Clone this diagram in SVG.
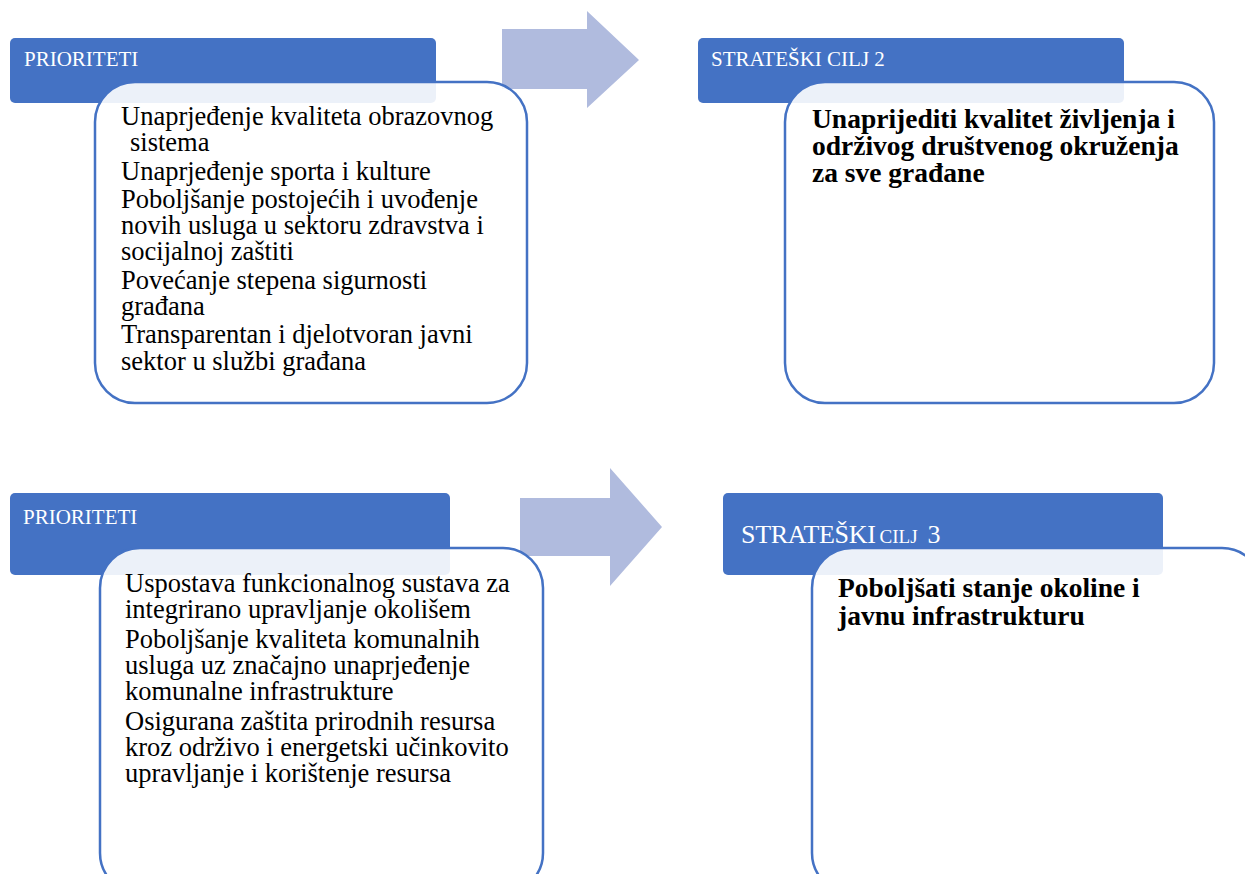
<svg xmlns="http://www.w3.org/2000/svg" width="1245" height="874" viewBox="0 0 1245 874">
<style>
.hdr{fill:#4472C4}
.body{fill:#FFFFFF;fill-opacity:0.9;stroke:#4472C4;stroke-width:2.5}
.arrow{fill:#B0BBDE}
.ht{font-family:"Liberation Serif",serif;font-size:21px;fill:#FFFFFF}
.bt{font-family:"Liberation Serif",serif;font-size:26.5px;fill:#000000}
.bb{font-family:"Liberation Serif",serif;font-size:27.5px;font-weight:bold;fill:#000000}
</style>
<rect width="1245" height="874" fill="#FFFFFF"/>
<g id="connectors">
<polygon class="arrow" points="502,29 587,29 587,11 639,60 587,108 587,89 502,89"/>
<polygon class="arrow" points="520,498 610,498 610,468 662,527 610,586 610,556 520,556"/>
</g>
<g id="prioriteti1">
<rect class="hdr" x="10" y="38" width="426" height="65" rx="5"/>
<text class="ht" x="24" y="66">PRIORITETI</text>
<rect class="body" x="95" y="82" width="432" height="321" rx="40"/>
<text class="bt" x="121" y="125">Unaprjeđenje kvaliteta obrazovnog</text>
<text class="bt" x="130" y="151">sistema</text>
<text class="bt" x="121" y="180">Unaprjeđenje sporta i kulture</text>
<text class="bt" x="121" y="208">Poboljšanje postojećih i uvođenje</text>
<text class="bt" x="121" y="234">novih usluga u sektoru zdravstva i</text>
<text class="bt" x="121" y="260">socijalnoj zaštiti</text>
<text class="bt" x="121" y="289">Povećanje stepena sigurnosti</text>
<text class="bt" x="121" y="315">građana</text>
<text class="bt" x="121" y="343">Transparentan i djelotvoran javni</text>
<text class="bt" x="121" y="370">sektor u službi građana</text>
</g>
<g id="cilj2">
<rect class="hdr" x="698" y="38" width="426" height="65" rx="5"/>
<text class="ht" x="711" y="66">STRATEŠKI CILJ 2</text>
<rect class="body" x="785" y="82" width="429" height="321" rx="40"/>
<text class="bb" x="812" y="128">Unaprijediti kvalitet življenja i</text>
<text class="bb" x="812" y="155">održivog društvenog okruženja</text>
<text class="bb" x="812" y="182">za sve građane</text>
</g>
<g id="prioriteti2">
<rect class="hdr" x="10" y="493" width="440" height="82" rx="5"/>
<text class="ht" x="23" y="524">PRIORITETI</text>
<rect class="body" x="100" y="548" width="443" height="345" rx="40"/>
<text class="bt" x="125" y="592">Uspostava funkcionalnog sustava za</text>
<text class="bt" x="125" y="618">integrirano upravljanje okolišem</text>
<text class="bt" x="125" y="648">Poboljšanje kvaliteta komunalnih</text>
<text class="bt" x="125" y="674">usluga uz značajno unaprjeđenje</text>
<text class="bt" x="125" y="700">komunalne infrastrukture</text>
<text class="bt" x="125" y="730">Osigurana zaštita prirodnih resursa</text>
<text class="bt" x="125" y="756">kroz održivo i energetski učinkovito</text>
<text class="bt" x="125" y="782">upravljanje i korištenje resursa</text>
</g>
<g id="cilj3">
<rect class="hdr" x="723" y="493" width="440" height="82" rx="5"/>
<text x="741" y="543" font-family="Liberation Serif,serif" fill="#FFFFFF"><tspan font-size="26" letter-spacing="-0.3">STRATEŠKI</tspan><tspan font-size="19" dx="4">CILJ</tspan><tspan font-size="26" dx="10">3</tspan></text>
<rect class="body" x="812" y="548" width="450" height="345" rx="40"/>
<text class="bb" x="838" y="597">Poboljšati stanje okoline i</text>
<text class="bb" x="838" y="625">javnu infrastrukturu</text>
</g>
</svg>
